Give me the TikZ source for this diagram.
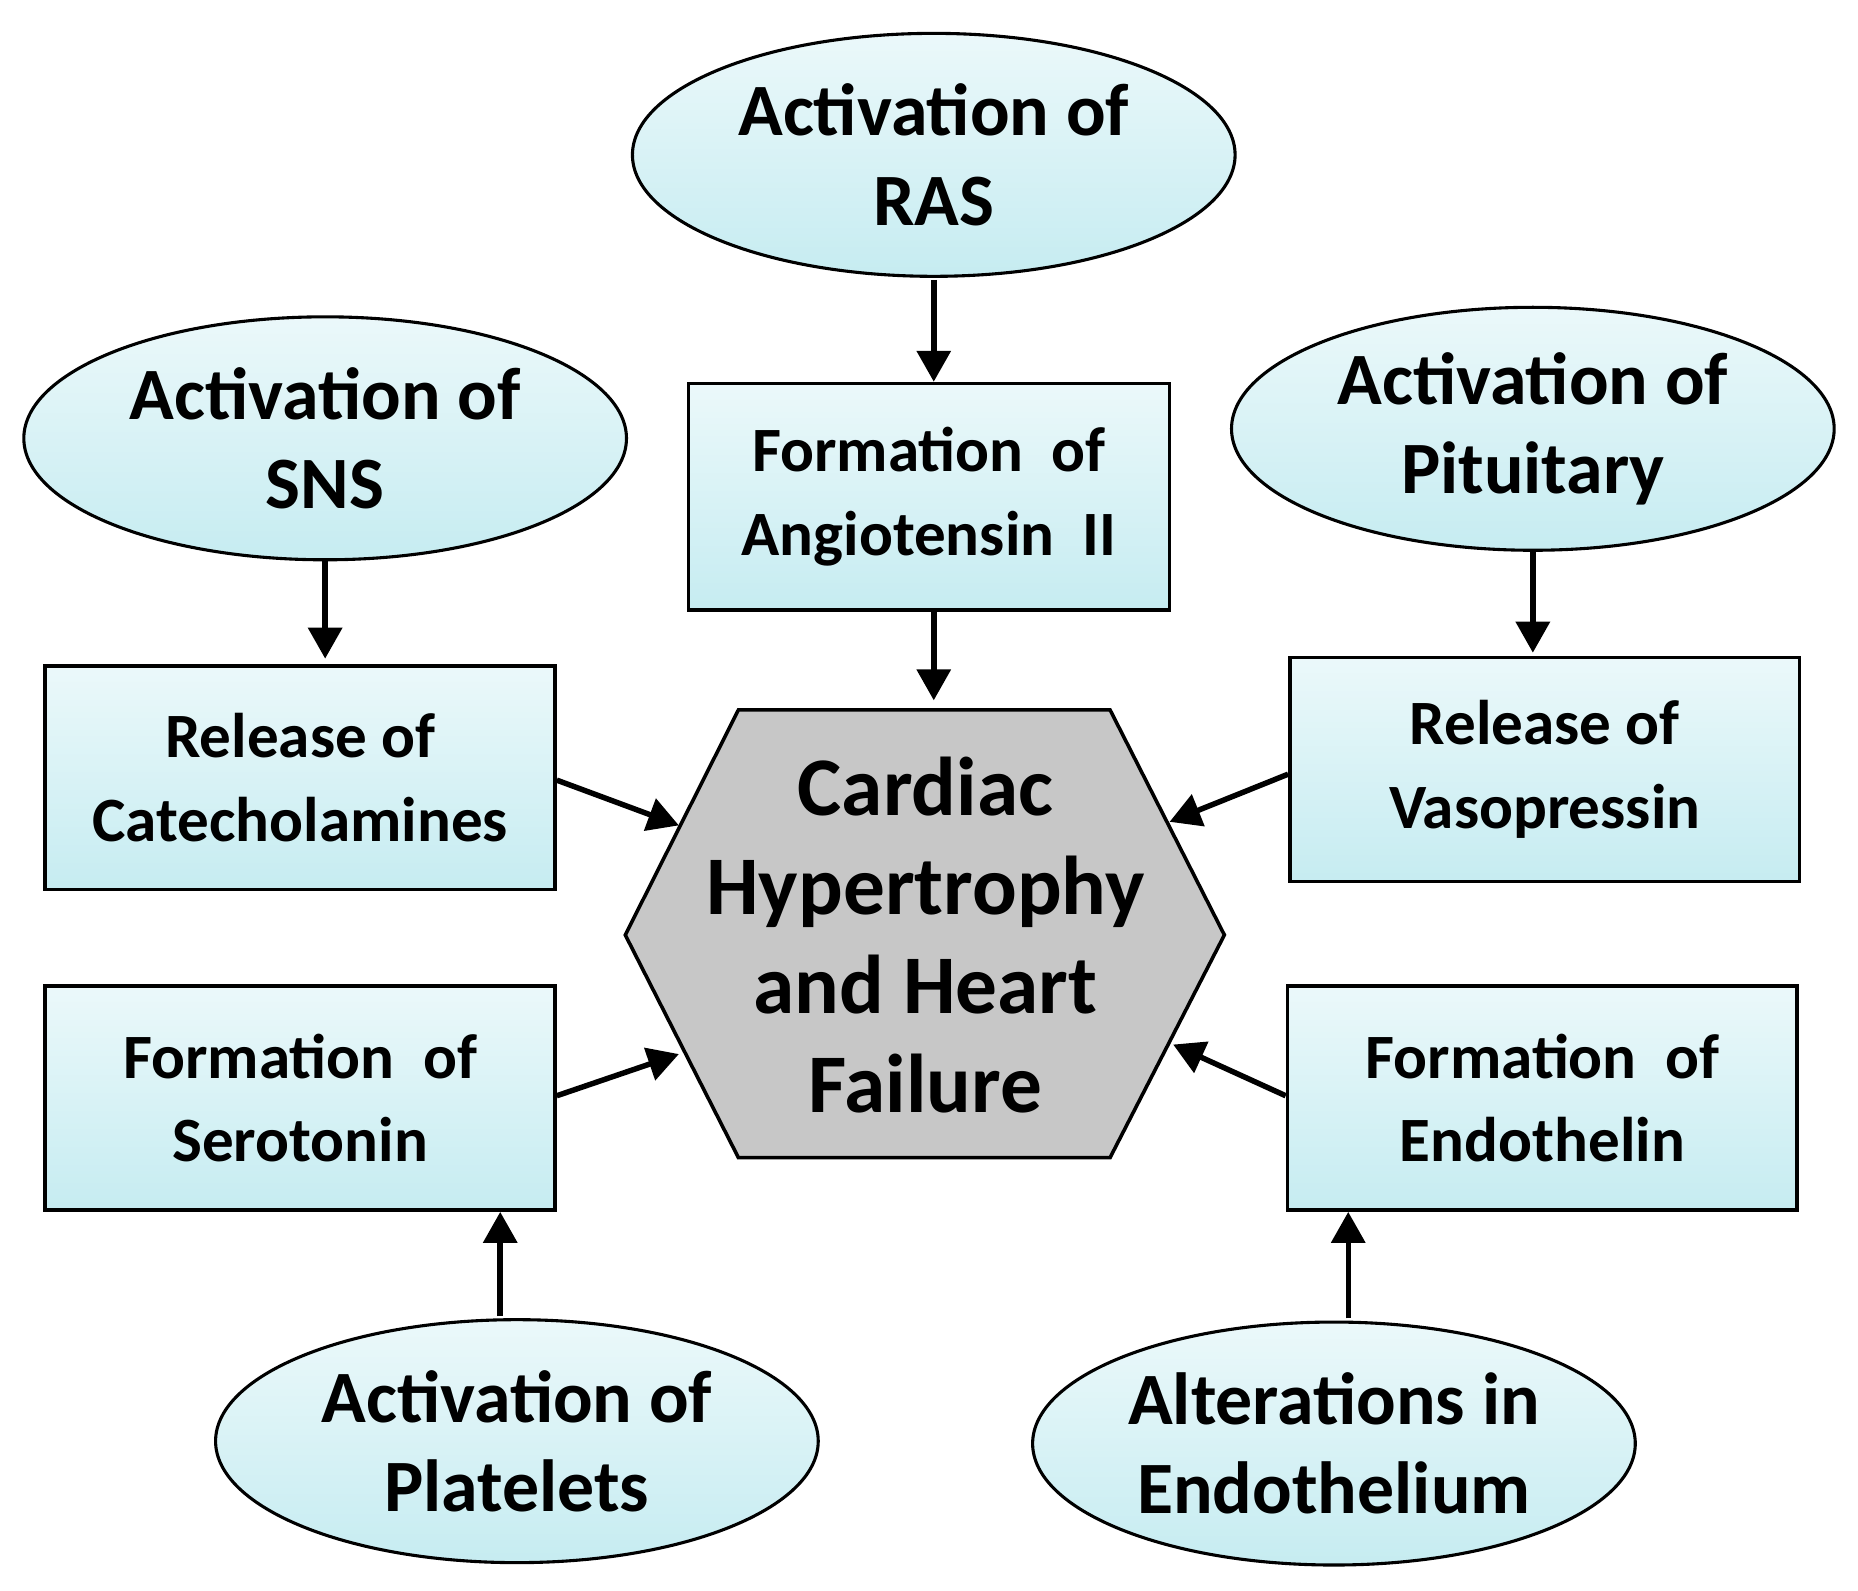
\documentclass[tikz,border=0pt]{standalone}
\usepackage{fontspec}
\setmainfont{Carlito}
\usetikzlibrary{shapes.geometric,arrows.meta}
\definecolor{cy}{HTML}{C6ECF1}
\begin{document}
\begin{tikzpicture}[x=0.5pt,y=-0.5pt,
 ell/.style={ellipse,draw=black,line width=1.3pt,top color=cy!35,bottom color=cy,minimum width=253pt,minimum height=102pt,inner sep=0pt,align=center,font=\fontsize{31}{37.5}\selectfont\bfseries},
 box/.style={rectangle,draw=black,line width=1.5pt,top color=cy!35,bottom color=cy,minimum width=214pt,minimum height=94pt,align=center,font=\fontsize{26.5}{35}\selectfont\bfseries},
 arr/.style={line width=2.3pt,-{Triangle[length=13pt,width=14pt]}}]
\useasboundingbox (0,0) rectangle (1560,1335);
\node[ell] (ras) at (784,130) {Activation of\\RAS};
\node[ell] (sns) at (273,368) {Activation of\\SNS};
\node[ell] (pit) at (1287,360) {Activation of\\Pituitary};
\node[ell] (pla) at (434,1210) {Activation of\\Platelets};
\node[ell] (end) at (1120,1212) {Alterations in\\Endothelium};
\node[box,minimum width=202pt,minimum height=95pt] (ang) at (780,417) {Formation\ \ of\\Angiotensin\ \ II};
\node[box] (cat) at (252,653) {Release of\\Catecholamines};
\node[box] (vas) at (1297,646) {Release of\\Vasopressin};
\node[box] (ser) at (252,922) {Formation\ \ of\\Serotonin};
\node[box] (eth) at (1295,922) {Formation\ \ of\\Endothelin};
\draw[line width=1.5pt,fill=black!22] (525,785)--(620,596)--(932,596)--(1028,785)--(932,972)--(620,972)--cycle;
\node[align=center,font=\fontsize{35}{41.5}\selectfont\bfseries] (hex) at (777,785) {Cardiac\\Hypertrophy\\and Heart\\Failure};
\coordinate (h1) at (784,588);
\coordinate (h2) at (570,693);
\coordinate (h3) at (982,690);
\coordinate (h4) at (570,885);
\coordinate (h5) at (985,877);
\draw[arr] (784,235) -- (ang.north -| 784,0);
\draw[arr] (ang.south -| h1) -- (h1);
\draw[arr] (sns.south) -- (273,553);
\draw[arr] (pit.south) -- (1287,548);
\draw[arr] (cat.east |- 0,655) -- (h2);
\draw[arr] (vas.west |- 0,650) -- (h3);
\draw[arr] (ser.east |- 0,920) -- (h4);
\draw[arr] (eth.west |- 0,920) -- (h5);
\draw[arr] (420,1105) -- (ser.south -| 420,0);
\draw[arr] (1132,1107) -- (eth.south -| 1132,0);
\end{tikzpicture}
\end{document}
